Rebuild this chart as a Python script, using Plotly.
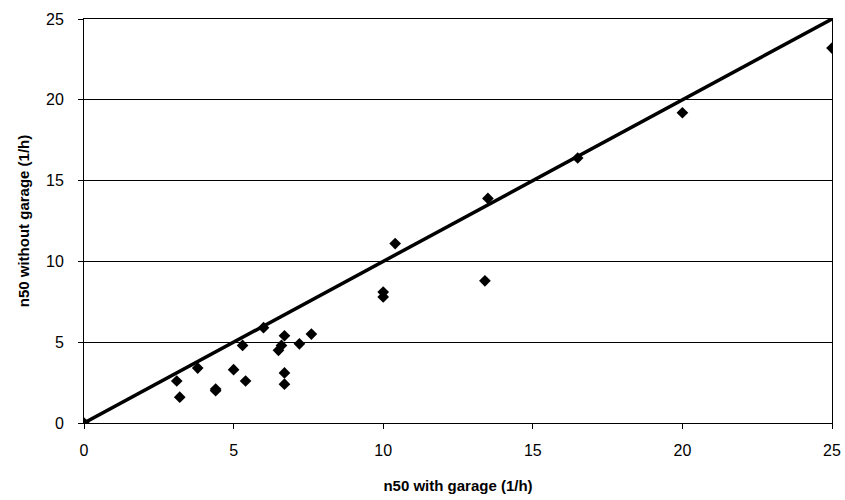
import plotly.graph_objects as go

# Air change rate at 50 Pa, measured with and without the garage included
n50_with_garage = [0.0, 3.1, 3.2, 3.8, 4.4, 4.4, 5.0, 5.3, 5.4, 6.0, 6.5, 6.6,
                   6.7, 6.7, 6.7, 7.2, 7.6, 10.0, 10.0, 10.4, 13.4, 13.5,
                   16.5, 20.0, 25.0]
n50_without_garage = [0.0, 2.6, 1.6, 3.4, 2.0, 2.1, 3.3, 4.8, 2.6, 5.9, 4.5, 4.8,
                      5.4, 3.1, 2.4, 4.9, 5.5, 7.8, 8.1, 11.1, 8.8, 13.9,
                      16.4, 19.2, 23.2]

# 1:1 reference line
equal_line = [0, 25]

tick_vals = [0, 5, 10, 15, 20, 25]

fig = go.Figure()

fig.add_trace(go.Scatter(
    x=equal_line, y=equal_line, mode="lines",
    line=dict(color="black", width=3.5),
    hoverinfo="skip", showlegend=False,
))

fig.add_trace(go.Scatter(
    x=n50_with_garage, y=n50_without_garage, mode="markers",
    marker=dict(symbol="diamond", size=9, color="black"),
    showlegend=False,
))

font_family = "Liberation Sans, Arial, sans-serif"

fig.update_layout(
    width=845, height=500,
    margin=dict(l=84, r=13, t=19, b=77),
    paper_bgcolor="white", plot_bgcolor="white",
    font=dict(family=font_family, color="black", size=14),
    xaxis=dict(
        range=[0, 25], tickvals=tick_vals, showgrid=False, zeroline=False,
        showline=True, linecolor="black", linewidth=1, mirror=True,
        ticks="outside", ticklen=5, tickcolor="black", automargin=False,
        tickfont=dict(size=16), ticklabelstandoff=8,
        title=dict(text="<b>n50 with garage (1/h)</b>", font=dict(size=15), standoff=22),
    ),
    yaxis=dict(
        range=[0, 25], tickvals=tick_vals, showgrid=True, gridcolor="black",
        gridwidth=1, zeroline=False,
        showline=True, linecolor="black", linewidth=1, mirror=True,
        ticks="outside", ticklen=5, tickcolor="black",
        tickfont=dict(size=16), ticklabelstandoff=11,
        title=dict(text="<b>n50 without garage (1/h)</b>", font=dict(size=15), standoff=12),
    ),
)

fig.write_html("out.html")
